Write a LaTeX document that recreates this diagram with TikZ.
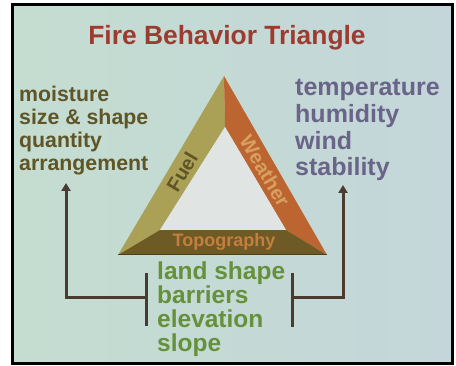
\documentclass[tikz,border=0pt]{standalone}
\usepackage{fontspec}
\setmainfont{Liberation Sans}
\usetikzlibrary{arrows.meta}

\definecolor{titlered}{HTML}{9E3B30}
\definecolor{fuelolive}{HTML}{5F5526}
\definecolor{weatherslate}{HTML}{6A6488}
\definecolor{topogreen}{HTML}{66913C}
\definecolor{linkbrown}{HTML}{4B3A30}
\definecolor{fuelface}{HTML}{AAA056}
\definecolor{weatherface}{HTML}{BD6531}
\definecolor{topoface}{HTML}{6D5A24}
\definecolor{innerface}{HTML}{E0E4E3}
\definecolor{weathertext}{HTML}{D8A060}
\definecolor{topotext}{HTML}{C47E40}
\definecolor{screenleft}{HTML}{C4DDD0}
\definecolor{screenmid}{HTML}{D8EAE4}
\definecolor{screenright}{HTML}{C4D6DA}

\begin{document}
\begin{tikzpicture}[x=1pt,y=-1pt,
    every node/.style={inner sep=0pt},
    itemlist/.style={anchor=base west,align=left},
    link/.style={linkbrown,line width=3pt},
    uparrow/.style={-{Triangle[width=9pt,length=8pt]}}]
    \useasboundingbox (0,0) rectangle (456,366);
    \fill[white] (0,0) rectangle (456,366);
    \shade[left color=screenleft,middle color=screenmid,right color=screenright] (12,5) rectangle (452,364);
    \draw[black,line width=3pt] (12,5) rectangle (452,364);

    % the triangle: three bevelled sides round a light centre
    \coordinate (outerTop) at (224,76);
    \coordinate (outerLeft) at (118,255);
    \coordinate (outerRight) at (327,255);
    \coordinate (innerTop) at (225,127);
    \coordinate (innerLeft) at (160,230);
    \coordinate (innerRight) at (286,230);
    \fill[fuelface] (outerTop) -- (outerLeft) -- (innerLeft) -- (innerTop) -- cycle;
    \fill[weatherface] (outerTop) -- (innerTop) -- (innerRight) -- (outerRight) -- cycle;
    \fill[topoface] (outerLeft) -- (outerRight) -- (innerRight) -- (innerLeft) -- cycle;
    \fill[innerface] (innerTop) -- (innerLeft) -- (innerRight) -- cycle;
    \draw[topoface!70!black,line width=1pt] (outerLeft) -- (outerRight);

    \node[rotate=59.4,text=fuelolive,font=\bfseries\fontsize{20}{20}\selectfont] (fuelLabel) at (182,172) {Fuel};
    \node[rotate=-59.4,text=weathertext,font=\bfseries\fontsize{20}{20}\selectfont] (weatherLabel) at (265,171) {Weather};
    \node[text=topotext,font=\bfseries\fontsize{18}{18}\selectfont] (topoLabel) at (224,242) {Topography};

    \node[anchor=base,text=titlered,font=\bfseries\fontsize{26.4}{26.4}\selectfont] (title) at (227,45) {Fire Behavior Triangle};

    % factor lists (placed by the baseline of their last line)
    \node[itemlist,text=fuelolive,font=\bfseries\fontsize{21.3}{23.3}\selectfont] (fuelList) at (19,171)
        {moisture\\size \& shape\\quantity\\arrangement};
    \node[itemlist,text=weatherslate,font=\bfseries\fontsize{25}{26.7}\selectfont] (weatherList) at (295,176)
        {temperature\\humidity\\wind\\stability};
    \node[itemlist,text=topogreen,font=\bfseries\fontsize{24.5}{24}\selectfont] (topoList) at (157,352)
        {land shape\\barriers\\elevation\\slope};

    % topography feeds both of the other sides
    \coordinate (fuelArrow) at (66,183);
    \coordinate (weatherArrow) at (343,185);
    \coordinate (leftBar) at (146,298);
    \coordinate (rightBar) at (292,298);
    \draw[link] ([yshift=25pt]leftBar) -- ([yshift=-28pt]leftBar);
    \draw[link,uparrow] (leftBar) -| (fuelArrow);
    \draw[link] ([yshift=25pt]rightBar) -- ([yshift=-29pt]rightBar);
    \draw[link,uparrow] (rightBar) -| (weatherArrow);
\end{tikzpicture}
\end{document}
